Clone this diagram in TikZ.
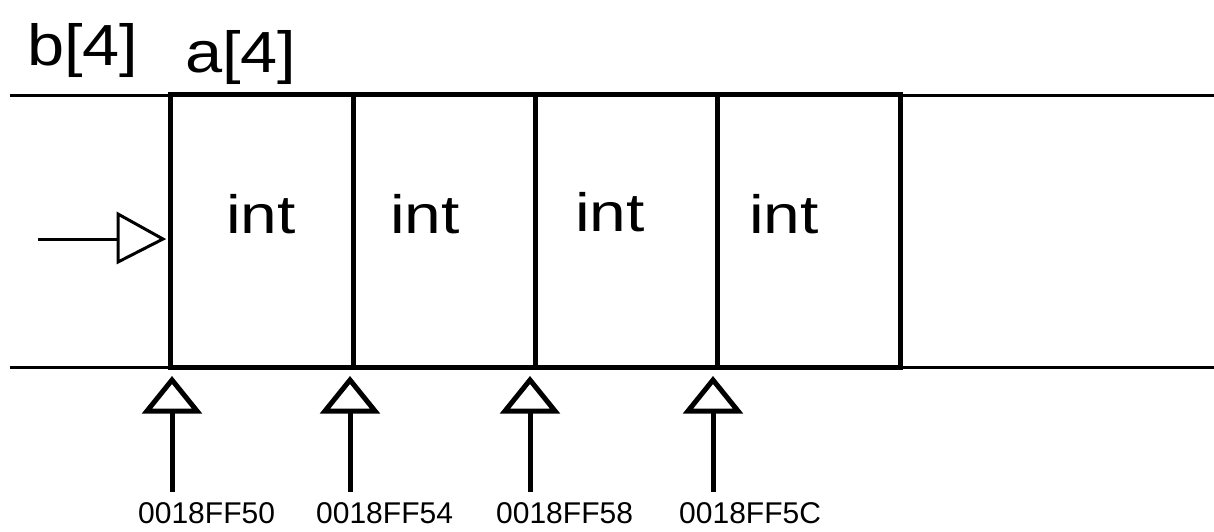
\documentclass[tikz,border=0pt]{standalone}
\usepackage{fontspec}
\setmainfont{Liberation Sans}
\begin{document}
\begin{tikzpicture}[x=1pt,y=-1pt,
  rail/.style={line width=3pt},
  cellline/.style={line width=5pt},
  titletext/.style={font=\fontsize{58}{58}\selectfont, anchor=base west, inner sep=0},
  celltext/.style={font=\fontsize{54}{54}\selectfont, anchor=base, inner sep=0},
  addr/.style={font=\fontsize{30}{30}\selectfont, anchor=base west, inner sep=0},
  uparrow/.style={line width=5pt},
  uphead/.style={line width=5pt, line join=miter, fill=white},
  lefthead/.style={line width=3pt, line join=miter, fill=white}]
\useasboundingbox (0,0) rectangle (1214,531);
% labels
\node[titletext] (lb) at (27,65) {\scalebox{1.15}[1]{b[4]}};
\node[titletext] (la) at (185,72) {\scalebox{1.15}[1]{a[4]}};
% rails
\coordinate (tl) at (10,95);
\coordinate (tr) at (1214,95);
\coordinate (bl) at (10,367);
\coordinate (br) at (1214,367);
\draw[rail] (tl) -- (tr);
\draw[rail] (bl) -- (br);
% cells
\coordinate (c0t) at (170,94); \coordinate (c0b) at (170,367);
\coordinate (c1t) at (353,94); \coordinate (c1b) at (353,367);
\coordinate (c2t) at (535,94); \coordinate (c2b) at (535,367);
\coordinate (c3t) at (717,94); \coordinate (c3b) at (717,367);
\coordinate (c4t) at (900,94); \coordinate (c4b) at (900,367);
\draw[cellline, line join=miter] (c0t) rectangle (c4b);
\draw[cellline] (c1t) -- (c1b);
\draw[cellline] (c2t) -- (c2b);
\draw[cellline] (c3t) -- (c3b);
\node[celltext] (i0) at (261,233) {\scalebox{1.22}[1]{int}};
\node[celltext] (i1) at (425,233) {\scalebox{1.22}[1]{int}};
\node[celltext] (i2) at (610,231) {\scalebox{1.22}[1]{int}};
\node[celltext] (i3) at (784,233) {\scalebox{1.22}[1]{int}};
% left arrow
\coordinate (ls) at (38,239);
\coordinate (lt) at (118,239);
\draw[rail] (ls) -- (lt);
\draw[lefthead] (118,214) -- (163,239) -- (118,262) -- cycle;
% up arrows and addresses
\foreach \x/\t/\n in {172/0018FF50/a0, 350/0018FF54/a1, 530/0018FF58/a2, 713/0018FF5C/a3}{
  \coordinate (\n s) at (\x,492);
  \coordinate (\n b) at (\x,410);
  \draw[uparrow] (\n s) -- (\n b);
  \draw[uphead] (\x-25,411) -- (\x,380) -- (\x+25,411) -- cycle;
  \node[addr] (\n t) at (\x-34,523) {\t};
}
\end{tikzpicture}
\end{document}
